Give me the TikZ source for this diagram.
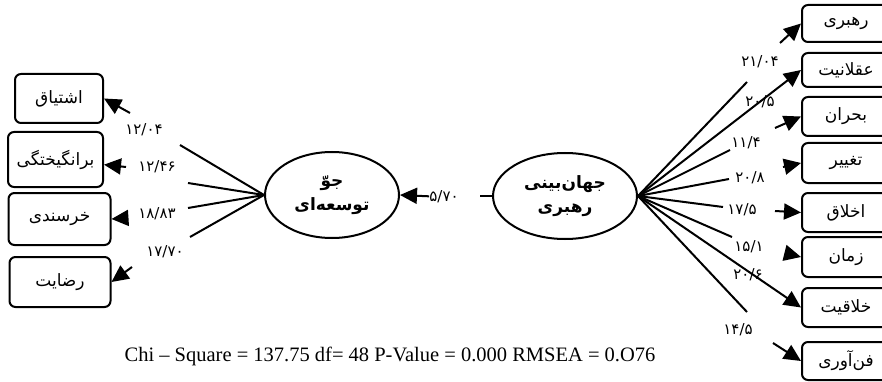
\documentclass[tikz,border=0pt]{standalone}
\usepackage{fontspec}
\setmainfont{Liberation Serif}
\newfontfamily\arabicfont[Script=Arabic]{DejaVu Sans}
\TeXXeTstate=1
\usetikzlibrary{arrows.meta}
\usetikzlibrary{shapes.geometric}
\newcommand{\rtl}[1]{\beginR #1\endR}
\tikzset{
    item/.style={
            draw, line width=2pt, rounded corners=6pt, inner sep=0pt,
            font=\arabicfont\fontsize{17}{20}\selectfont
        },
    item right/.style={
            item, minimum width=88pt
        },
    latent/.style={
            draw, ellipse, line width=2pt, inner sep=0pt, align=center,
            font=\arabicfont\bfseries\fontsize{17}{24}\selectfont
        },
    coef/.style={
            inner sep=0pt, font=\arabicfont\fontsize{15}{17}\selectfont
        },
    link/.style={
            line width=2pt
        },
    load/.style={
            link, -{Triangle[length=17pt,width=16pt]}
        }
}
\begin{document}
\begin{tikzpicture}[x=1pt,y=-1pt]
    \useasboundingbox (0,0) rectangle (882,382);
    \clip (0,0) rectangle (882,382);

    % latent variables
    \node[latent, minimum width=134pt, minimum height=86pt] (jaw) at (332,195) {\rtl{جوّ}\\\rtl{توسعه‌ای}};
    \node[latent, minimum width=144pt, minimum height=86pt] (jahan) at (565,196) {\rtl{جهان‌بینی}\\\rtl{رهبری}};

    % indicators of jaw
    \node[item, minimum width=88pt, minimum height=49pt] (ishtiyagh) at (59,98.5) {\rtl{اشتیاق}};
    \node[item, minimum width=95pt, minimum height=55pt] (barangikhtegi) at (55.5,159.5) {\rtl{برانگیختگی}};
    \node[item, minimum width=102pt, minimum height=52pt] (khorsandi) at (59.5,219) {\rtl{خرسندی}};
    \node[item, minimum width=101pt, minimum height=50pt] (rezayat) at (60,282) {\rtl{رضایت}};

    % indicators of jahan
    \node[item right, minimum height=37pt] (rahbari) at (846,23.5) {\rtl{رهبری}};
    \node[item right, minimum height=34pt] (aqlaniyat) at (846,70) {\rtl{عقلانیت}};
    \node[item right, minimum height=39pt] (bohran) at (846,116.5) {\rtl{بحران}};
    \node[item right, minimum height=40pt] (taghyir) at (846,163) {\rtl{تغییر}};
    \node[item right, minimum height=39pt] (akhlagh) at (846,212.5) {\rtl{اخلاق}};
    \node[item right, minimum height=40pt] (zaman) at (846,257) {\rtl{زمان}};
    \node[item right, minimum height=39pt] (khalaghiyat) at (846,307.5) {\rtl{خلاقیت}};
    \node[item right, minimum height=38pt] (fanavari) at (846,361) {\rtl{فن‌آوری}};

    % coefficients
    \node[coef] (c0) at (444,197) {۵/۷۰};
    \node[coef] (c1) at (144,130) {۱۲/۰۴};
    \node[coef] (c2) at (157,167) {۱۲/۴۶};
    \node[coef] (c3) at (157,214) {۱۸/۸۳};
    \node[coef] (c4) at (165,252) {۱۷/۷۰};
    \node[coef] (c5) at (760,62) {۲۱/۰۴};
    \node[coef] (c6) at (760,102) {۲۰/۵};
    \node[coef] (c7) at (746,143) {۱۱/۴};
    \node[coef] (c8) at (750,178) {۲۰/۸};
    \node[coef] (c9) at (742,210) {۱۷/۵};
    \node[coef] (c10) at (749,247) {۱۵/۱};
    \node[coef] (c11) at (748,275) {۲۰/۶};
    \node[coef] (c12) at (738,330) {۱۴/۵};

    % free ends of the split paths
    \coordinate (m1) at (480,196);
    \coordinate (l1) at (180,145);
    \coordinate (a1) at (130,113);
    \coordinate (l2) at (188,183);
    \coordinate (a2) at (126,167);
    \coordinate (l3) at (188,208);
    \coordinate (a3) at (127,218);
    \coordinate (l4) at (190,237);
    \coordinate (a4) at (132,267);
    \coordinate (r1) at (747,82);
    \coordinate (b1) at (780,43);
    \coordinate (r3) at (730,150);
    \coordinate (b3) at (775,128);
    \coordinate (r4) at (729,179);
    \coordinate (b4) at (783,167);
    \coordinate (r5) at (723,207);
    \coordinate (b5) at (775,211);
    \coordinate (r6) at (732,237);
    \coordinate (b6) at (785,253);
    \coordinate (r8) at (747,312);
    \coordinate (b8) at (773,343);

    \draw[link] (jahan.west) -- (m1);
    \draw[load] (c0) -- (jaw.east);

    \draw[link] (jaw.west) -- (l1);
    \draw[link] (jaw.west) -- (l2);
    \draw[link] (jaw.west) -- (l3);
    \draw[link] (jaw.west) -- (l4);
    \draw[load] (a1) -- (ishtiyagh.east);
    \draw[load] (a2) -- (barangikhtegi);
    \draw[load] (a3) -- (khorsandi.east);
    \draw[load] (a4) -- (rezayat.east);

    \draw[link] (jahan.east) -- (r1);
    \draw[link] (jahan.east) -- (r3);
    \draw[link] (jahan.east) -- (r4);
    \draw[link] (jahan.east) -- (r5);
    \draw[link] (jahan.east) -- (r6);
    \draw[link] (jahan.east) -- (r8);
    \draw[load] (jahan.east) -- (aqlaniyat.west);
    \draw[load] (jahan.east) -- (khalaghiyat.west);
    \draw[load] (b1) -- (rahbari.west);
    \draw[load] (b3) -- (bohran.west);
    \draw[load] (b4) -- (taghyir.west);
    \draw[load] (b5) -- (akhlagh.west);
    \draw[load] (b6) -- (zaman.west);
    \draw[load] (b8) -- (fanavari.west);

    % fit indices
    \node[anchor=base, font=\fontsize{20.5}{24}\selectfont] (fit) at (390,361) {Chi – Square = 137.75 df= 48 P-Value = 0.000 RMSEA = 0.O76};
\end{tikzpicture}
\end{document}
